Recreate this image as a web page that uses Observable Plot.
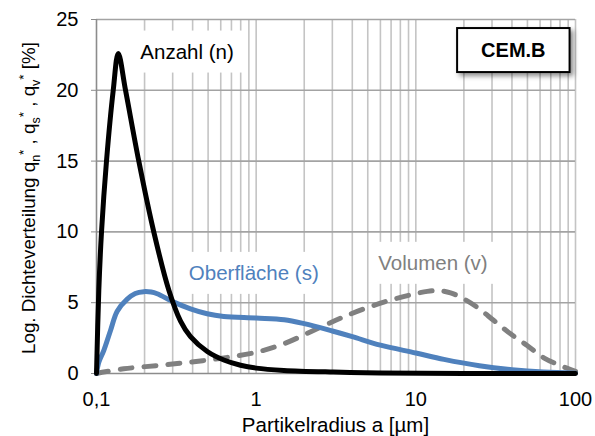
<!DOCTYPE html>
<html>
<head>
<meta charset="utf-8">
<script src="https://cdn.jsdelivr.net/npm/d3@7"></script>
<script src="https://cdn.jsdelivr.net/npm/@observablehq/plot@0.6"></script>
<style>
  html, body { margin: 0; padding: 0; background: #fff; }
  #chart { width: 595px; height: 436px; }
  svg { font-family: "Liberation Sans", Arial, sans-serif; }
</style>
</head>
<body>
<div id="chart"></div>
<script>
// ---- data ----
const xTicks = [0.1, 1, 10, 100];
const xTickLabels = ["0,1", "1", "10", "100"];
const yTicks = [0, 5, 10, 15, 20, 25];

// Anzahl (n)
const nRadius = [0.1, 0.1034, 0.1075, 0.1155, 0.1273, 0.1368, 0.152, 0.184, 0.2284, 0.2836, 0.336, 0.388, 0.494, 0.627, 0.798, 1.0, 1.49, 3.05, 6.0, 20, 100];
const nValue  = [0, 5.9, 10, 15, 20, 22.6, 20, 15, 10, 5.9, 3.7, 2.6, 1.55, 0.95, 0.58, 0.38, 0.22, 0.1, 0.03, 0, 0];

// Oberfläche (s)
const sRadius = [0.1, 0.1034, 0.111, 0.1224, 0.1348, 0.1557, 0.175, 0.1978, 0.22, 0.2399, 0.3048, 0.3878, 0.4933, 0.6268, 1.0, 1.5, 2, 3, 4, 6, 10, 15, 25, 40, 63, 100];
const sValue  = [0, 0.8, 1.62, 3.04, 4.4, 5.25, 5.65, 5.78, 5.75, 5.63, 5.04, 4.57, 4.22, 4.03, 3.92, 3.8, 3.52, 3.0, 2.6, 2.0, 1.45, 1.0, 0.55, 0.27, 0.1, 0.02];

// Volumen (v)
const vRadius = [0.1, 0.148, 0.24, 0.388, 0.627, 1.0, 1.49, 2.41, 3.9, 6.3, 9.25, 11.8, 14, 16.5, 19.95, 24.2, 30.8, 39.2, 49.8, 63.3, 80.4, 100];
const vValue  = [0, 0.33, 0.56, 0.8, 1.1, 1.5, 2.1, 3.16, 4.2, 5.04, 5.55, 5.8, 5.85, 5.7, 5.27, 4.68, 3.74, 2.8, 1.98, 1.11, 0.56, 0.15];

// series labels
const labelText   = ["Anzahl (n)", "Oberfläche (s)", "Volumen (v)"];
const labelRadius = [0.369, 0.966, 12.8];
const labelValue  = [22.67, 7.04, 7.75];
const labelColor  = ["#000000", "#4F81BD", "#808080"];

const titleText = ["CEM.B"];
const titleRadius = [40.8];
const titleValue = [22.8];

const xLabel = "Partikelradius a [µm]";
const yLabelParts = ["Log. Dichteverteilung q", "n", "*", " , q", "s", "*", " , q", "v", "*", " [%]"];

// ---- build tables ----
const toRows = (xs, ys) => xs.map((x, i) => ({x, y: ys[i]}));
const nRows = toRows(nRadius, nValue);
const sRows = toRows(sRadius, sValue);
const vRows = toRows(vRadius, vValue);
const labelRows = labelText.map((t, i) => ({t, x: labelRadius[i], y: labelValue[i], c: labelColor[i]}));
const titleRows = titleText.map((t, i) => ({t, x: titleRadius[i], y: titleValue[i]}));

// minor grid positions (2..9 of each decade) and decade lines
const gridX = [];
for (let i = 0; i < xTicks.length - 1; i++) {
  for (let k = 2; k <= 9; k++) gridX.push(xTicks[i] * k);
  gridX.push(xTicks[i + 1]);
}

const chart = Plot.plot({
  width: 595,
  height: 436,
  marginLeft: 96,
  marginRight: 20,
  marginTop: 19,
  marginBottom: 63,
  style: {fontFamily: '"Liberation Sans", Arial, sans-serif', fontSize: "20px", color: "#000", background: "#fff", overflow: "visible"},
  x: {type: "log", domain: [0.1, 100]},
  y: {domain: [0, 25]},
  marks: [
    Plot.ruleX(gridX, {stroke: "#c4c4c4", strokeWidth: 1.6}),
    Plot.ruleY(yTicks.slice(1), {stroke: "#a3a3a3", strokeWidth: 1.6}),
    Plot.ruleX([xTicks[0]], {stroke: "#8c8c8c", strokeWidth: 1.6}),
    Plot.axisY({ticks: yTicks, tickSize: 5, tickPadding: 13, label: null, stroke: "#8c8c8c", fill: "#000", fontSize: 20}),
    Plot.axisX({ticks: xTicks, tickSize: 0, tickPadding: 18, label: null, fill: "#000", fontSize: 20,
                tickFormat: d => xTickLabels[xTicks.indexOf(d)]}),
    Plot.ruleY([0], {stroke: "#8c8c8c", strokeWidth: 1.6}),
    Plot.line(vRows, {x: "x", y: "y", stroke: "#808080", strokeWidth: 5, strokeDasharray: "12,12", strokeLinecap: "round", curve: "catmull-rom"}),
    Plot.line(sRows, {x: "x", y: "y", stroke: "#4F81BD", strokeWidth: 5, curve: "catmull-rom"}),
    Plot.line(nRows, {x: "x", y: "y", stroke: "#000000", strokeWidth: 5, curve: "catmull-rom"}),
    Plot.text(labelRows, {x: "x", y: "y", text: "t", fill: "c", fontSize: 20.5, textAnchor: "middle"}),
    Plot.text(titleRows, {x: "x", y: "y", text: "t", fill: "#000", fontSize: 20, fontWeight: "bold", textAnchor: "middle"})
  ]
});

document.getElementById("chart").append(chart);

// ---- boxes behind labels ----
const ns = "http://www.w3.org/2000/svg";
const defs = document.createElementNS(ns, "defs");
defs.innerHTML = '<filter id="shadow" x="-20%" y="-20%" width="150%" height="160%"><feDropShadow dx="3" dy="3" stdDeviation="2.5" flood-color="#000" flood-opacity="0.45"/></filter>';
chart.insertBefore(defs, chart.firstChild);

const textGroups = chart.querySelectorAll('g[aria-label="text"]');
function boxes(group, padL, padR, padT, padB, opts) {
  group.querySelectorAll("text").forEach(t => {
    const bb = t.getBBox();
    const r = document.createElementNS(ns, "rect");
    r.setAttribute("x", bb.x - padL);
    r.setAttribute("y", bb.y - padT);
    r.setAttribute("width", bb.width + padL + padR);
    r.setAttribute("height", bb.height + padT + padB);
    r.setAttribute("fill", "#fff");
    r.setAttribute("stroke", opts.stroke || "none");
    if (opts.strokeWidth) r.setAttribute("stroke-width", opts.strokeWidth);
    if (opts.filter) r.setAttribute("filter", opts.filter);
    const tr = t.getAttribute("transform");
    if (tr) r.setAttribute("transform", tr);
    t.parentNode.insertBefore(r, t);
  });
}
if (textGroups[0]) boxes(textGroups[0], 5, 11, 9.5, 9.5, {});
if (textGroups[1]) boxes(textGroups[1], 24, 24, 11, 11, {stroke: "#000", strokeWidth: 2, filter: "url(#shadow)"});

// ---- axis titles ----
const svg = d3.select(chart);
const yl = svg.append("text")
  .attr("transform", "translate(28,198) rotate(-90)")
  .attr("text-anchor", "middle")
  .attr("font-size", 18.8)
  .attr("fill", "#000")
  .attr("dy", "0.35em");
// pattern: normal, sub, sup, normal, sub, sup, ...
yLabelParts.forEach((part, i) => {
  const kind = i === 0 ? "first" : (i % 3 === 1 ? "sub" : (i % 3 === 2 ? "sup" : "normal"));
  const ts = yl.append("tspan").text(part);
  if (kind === "sub") ts.attr("font-size", 12.5).attr("dy", 5);
  else if (kind === "sup") ts.attr("font-size", 13.5).attr("dy", -12);
  else if (kind === "normal") ts.attr("dy", 7);
});

svg.append("text")
  .attr("x", 335.5)
  .attr("y", 432)
  .attr("text-anchor", "middle")
  .attr("font-size", 20.5)
  .attr("fill", "#000")
  .text(xLabel);
</script>
</body>
</html>
